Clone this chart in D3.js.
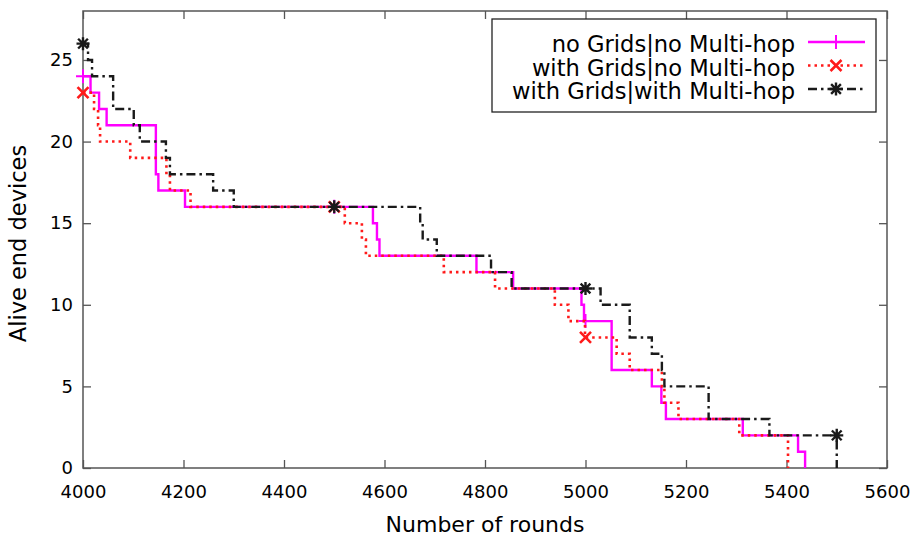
<!DOCTYPE html>
<html>
<head>
<meta charset="utf-8">
<script src="https://cdn.jsdelivr.net/npm/d3@7"></script>
<style>
  html, body { margin: 0; padding: 0; background: #fff; }
  svg { display: block; font-family: "DejaVu Sans", sans-serif; }
</style>
</head>
<body>
<svg id="chart" width="921" height="540"></svg>
<script>
// Step points (round at which the count changes, new count of alive devices)
const noGridsRounds = [4000, 4015, 4032, 4047, 4145, 4150, 4203, 4577, 4585, 4590, 4783, 4856, 4992, 4997, 5052, 5132, 5151, 5160, 5313, 5423, 5437];
const noGridsAlive  = [24, 23, 22, 21, 18, 17, 16, 15, 14, 13, 12, 11, 10, 9, 6, 5, 4, 3, 2, 1, 0];

const gridsRounds = [4000, 4022, 4030, 4034, 4094, 4166, 4173, 4214, 4521, 4555, 4563, 4718, 4820, 4939, 4966, 4999, 5062, 5088, 5152, 5157, 5185, 5306, 5403];
const gridsAlive  = [23, 22, 21, 20, 19, 18, 17, 16, 15, 14, 13, 12, 11, 10, 9, 8, 7, 6, 5, 4, 3, 2, 0];

const gridsHopRounds = [4000, 4010, 4018, 4060, 4101, 4113, 4165, 4173, 4259, 4300, 4671, 4676, 4704, 4812, 4853, 5030, 5088, 5132, 5152, 5157, 5245, 5366, 5500];
const gridsHopAlive  = [26, 25, 24, 22, 21, 20, 19, 18, 17, 16, 15, 14, 13, 12, 11, 10, 8, 7, 6, 5, 3, 2, 0];

const seriesNames = ["no Grids|no Multi-hop", "with Grids|no Multi-hop", "with Grids|with Multi-hop"];
const markerRounds = [4000, 4500, 5000, 5500];

const xTicks = [4000, 4200, 4400, 4600, 4800, 5000, 5200, 5400, 5600];
const yTicks = [0, 5, 10, 15, 20, 25];

const svg = d3.select("#chart");
const plotL = 83, plotR = 887, plotT = 11, plotB = 468;

const x = d3.scaleLinear().domain([4000, 5600]).range([plotL, plotR]);
const y = d3.scaleLinear().domain([0, 28]).range([plotB, plotT]);

const frameColor = "#555";

// Axes with inward ticks, mirrored on top and right
const gx = svg.append("g").attr("transform", `translate(0,${plotB})`)
  .call(d3.axisBottom(x).tickValues(xTicks).tickSize(-8).tickPadding(17).tickFormat(d3.format("d")));
const gxTop = svg.append("g").attr("transform", `translate(0,${plotT})`)
  .call(d3.axisTop(x).tickValues(xTicks).tickSize(-8).tickFormat(""));
const gy = svg.append("g").attr("transform", `translate(${plotL},0)`)
  .call(d3.axisLeft(y).tickValues(yTicks).tickSize(-8).tickPadding(10));
const gyRight = svg.append("g").attr("transform", `translate(${plotR},0)`)
  .call(d3.axisRight(y).tickValues(yTicks).tickSize(-8).tickFormat(""));

[gx, gxTop, gy, gyRight].forEach(g => {
  g.select(".domain").remove();
  g.selectAll(".tick line").attr("stroke", frameColor).attr("stroke-width", 1.3);
  g.selectAll(".tick text").attr("fill", "#000").style("font-size", "18px").style("font-family", "DejaVu Sans");
});

svg.append("rect")
  .attr("x", plotL).attr("y", plotT)
  .attr("width", plotR - plotL).attr("height", plotB - plotT)
  .attr("fill", "none").attr("stroke", frameColor).attr("stroke-width", 1.5);

// Axis titles
svg.append("text")
  .attr("x", (plotL + plotR) / 2).attr("y", 532)
  .attr("text-anchor", "middle")
  .style("font-size", "22px")
  .text("Number of rounds");

svg.append("text")
  .attr("transform", `translate(26,${(plotT + plotB) / 2 + 4}) rotate(-90)`)
  .attr("text-anchor", "middle")
  .style("font-size", "22.5px")
  .text("Alive end devices");

// Marker shapes
function markerPath(kind, s) {
  if (kind === "plus") return `M${-s},0H${s}M0,${-s}V${s}`;
  if (kind === "cross") return `M${-s},${-s}L${s},${s}M${-s},${s}L${s},${-s}`;
  const d = s * 0.75;
  return `M${-s},0H${s}M0,${-s}V${s}M${-d},${-d}L${d},${d}M${-d},${d}L${d},${-d}`;
}

const series = [
  { name: seriesNames[0], rounds: noGridsRounds, alive: noGridsAlive, color: "#ff00ff", dash: null, width: 2.4, marker: "plus", msize: 7, mwidth: 2 },
  { name: seriesNames[1], rounds: gridsRounds, alive: gridsAlive, color: "#ff1a1a", dash: "2.5,4", width: 2.6, marker: "cross", msize: 5.5, mwidth: 2.6 },
  { name: seriesNames[2], rounds: gridsHopRounds, alive: gridsHopAlive, color: "#1a1a1a", dash: "9,4,2.5,4", width: 2.4, marker: "star", msize: 6.5, mwidth: 2.4 }
];

const line = d3.line()
  .x(d => x(d[0]))
  .y(d => y(d[1]))
  .curve(d3.curveStepAfter);

series.forEach(s => {
  const pts = s.rounds.map((r, i) => [r, s.alive[i]]);
  svg.append("path")
    .datum(pts)
    .attr("d", line)
    .attr("fill", "none")
    .attr("stroke", s.color)
    .attr("stroke-width", s.width)
    .attr("stroke-dasharray", s.dash);

  // Point markers every 500 rounds, showing the count held just before that round
  const last = s.rounds[s.rounds.length - 1];
  markerRounds.filter(m => m <= last).forEach(m => {
    let v = s.alive[0];
    s.rounds.forEach((r, i) => { if (r < m) v = s.alive[i]; });
    svg.append("path")
      .attr("transform", `translate(${x(m)},${y(v)})`)
      .attr("d", markerPath(s.marker, s.msize))
      .attr("fill", "none")
      .attr("stroke", s.color)
      .attr("stroke-width", s.mwidth);
  });
});

// Legend
const legend = svg.append("g");
legend.append("rect")
  .attr("x", 492).attr("y", 19).attr("width", 384).attr("height", 93)
  .attr("fill", "#fff").attr("stroke", "#222").attr("stroke-width", 1.3);

series.forEach((s, i) => {
  const cy = 42 + i * 23.5;
  legend.append("text")
    .attr("x", 795).attr("y", cy + 10)
    .attr("text-anchor", "end")
    .style("font-size", "22.6px")
    .text(s.name);
  legend.append("line")
    .attr("x1", 808).attr("x2", 865).attr("y1", cy).attr("y2", cy)
    .attr("stroke", s.color)
    .attr("stroke-width", s.width)
    .attr("stroke-dasharray", s.dash);
  legend.append("path")
    .attr("transform", `translate(836,${cy})`)
    .attr("d", markerPath(s.marker, s.msize))
    .attr("fill", "none")
    .attr("stroke", s.color)
    .attr("stroke-width", s.mwidth);
});
</script>
</body>
</html>
